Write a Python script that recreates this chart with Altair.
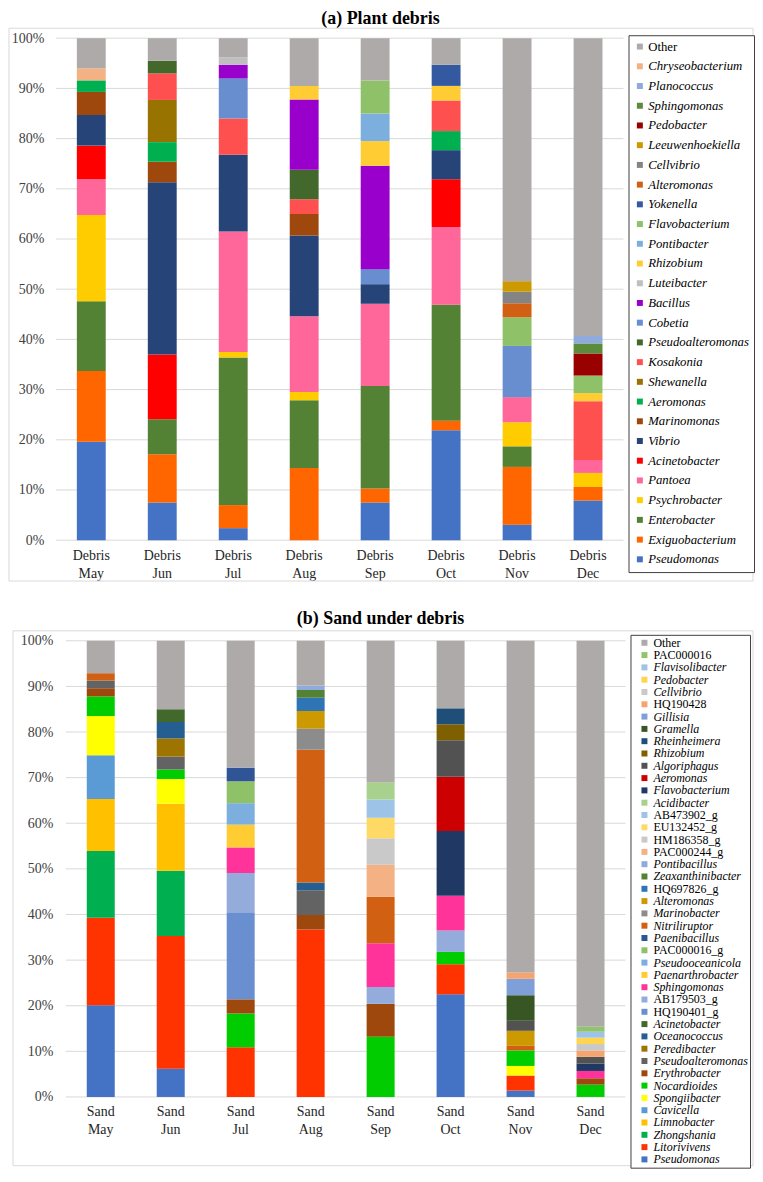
import altair as alt
import pandas as pd

months = ["May", "Jun", "Jul", "Aug", "Sep", "Oct", "Nov", "Dec"]
tick_values = [0.0, 0.1, 0.2, 0.3, 0.4, 0.5, 0.6, 0.7, 0.8, 0.9, 1.0]

# ---------------- (a) Plant debris ----------------
debris_taxa = ["Other", "Chryseobacterium", "Planococcus", "Sphingomonas", "Pedobacter",
               "Leeuwenhoekiella", "Cellvibrio", "Alteromonas", "Yokenella", "Flavobacterium",
               "Pontibacter", "Rhizobium", "Luteibacter", "Bacillus", "Cobetia",
               "Pseudoalteromonas", "Kosakonia", "Shewanella", "Aeromonas", "Marinomonas",
               "Vibrio", "Acinetobacter", "Pantoea", "Psychrobacter", "Enterobacter",
               "Exiguobacterium", "Pseudomonas"]
debris_colors = ["#AEAAAA", "#F4B183", "#8FAADC", "#5B8C3B", "#990000",
                 "#CC9A00", "#848484", "#D26012", "#335AA1", "#8FC168",
                 "#7CAFDD", "#FFCD33", "#BFBFBF", "#9900CC", "#698ED0",
                 "#43682B", "#FF5050", "#997300", "#00B050", "#9E480E",
                 "#264478", "#FF0000", "#FF6699", "#FFCC00", "#548235",
                 "#FF6600", "#4472C4"]

debris_may = {"Pseudomonas": 19.6, "Exiguobacterium": 14.1, "Enterobacter": 13.9, "Psychrobacter": 17.2,
              "Pantoea": 7.1, "Acinetobacter": 6.7, "Vibrio": 6.1, "Marinomonas": 4.6,
              "Aeromonas": 2.3, "Chryseobacterium": 2.4, "Other": 6.0}
debris_jun = {"Pseudomonas": 7.5, "Exiguobacterium": 9.6, "Enterobacter": 7.0, "Acinetobacter": 12.9,
              "Vibrio": 34.3, "Marinomonas": 4.1, "Aeromonas": 3.9, "Shewanella": 8.4,
              "Kosakonia": 5.3, "Pseudoalteromonas": 2.5, "Other": 4.5}
debris_jul = {"Pseudomonas": 2.4, "Exiguobacterium": 4.6, "Enterobacter": 29.4, "Psychrobacter": 1.1,
              "Pantoea": 24.0, "Vibrio": 15.3, "Kosakonia": 7.2, "Cobetia": 8.0,
              "Bacillus": 2.7, "Luteibacter": 1.5, "Other": 3.8}
debris_aug = {"Exiguobacterium": 14.4, "Enterobacter": 13.5, "Psychrobacter": 1.6, "Pantoea": 15.1,
              "Vibrio": 16.1, "Marinomonas": 4.3, "Kosakonia": 2.9, "Pseudoalteromonas": 5.9,
              "Bacillus": 14.0, "Rhizobium": 2.7, "Other": 9.5}
debris_sep = {"Pseudomonas": 7.5, "Exiguobacterium": 2.8, "Enterobacter": 20.4, "Pantoea": 16.4,
              "Vibrio": 3.9, "Cobetia": 3.0, "Bacillus": 20.6, "Rhizobium": 4.9,
              "Pontibacter": 5.5, "Flavobacterium": 6.6, "Other": 8.4}
debris_oct = {"Pseudomonas": 21.9, "Exiguobacterium": 1.9, "Enterobacter": 23.1, "Pantoea": 15.5,
              "Acinetobacter": 9.5, "Vibrio": 5.8, "Aeromonas": 3.8, "Kosakonia": 6.1,
              "Rhizobium": 2.9, "Yokenella": 4.2, "Other": 5.3}
debris_nov = {"Pseudomonas": 3.1, "Exiguobacterium": 11.5, "Enterobacter": 4.1, "Psychrobacter": 4.8,
              "Pantoea": 5.0, "Cobetia": 10.2, "Flavobacterium": 5.7, "Alteromonas": 2.8,
              "Cellvibrio": 2.3, "Leeuwenhoekiella": 2.1, "Other": 48.4}
debris_dec = {"Pseudomonas": 7.9, "Exiguobacterium": 2.7, "Psychrobacter": 2.8, "Pantoea": 2.6,
              "Kosakonia": 11.7, "Rhizobium": 1.6, "Flavobacterium": 3.5, "Pedobacter": 4.4,
              "Sphingomonas": 2.0, "Planococcus": 1.5, "Other": 59.3}
debris_samples = [debris_may, debris_jun, debris_jul, debris_aug,
                  debris_sep, debris_oct, debris_nov, debris_dec]

# ---------------- (b) Sand under debris ----------------
sand_taxa = ["Other", "PAC000016", "Flavisolibacter", "Pedobacter", "Cellvibrio", "HQ190428",
             "Gillisia", "Gramella", "Rheinheimera", "Rhizobium", "Algoriphagus", "Aeromonas",
             "Flavobacterium", "Acidibacter", "AB473902_g", "EU132452_g", "HM186358_g",
             "PAC000244_g", "Pontibacillus", "Zeaxanthinibacter", "HQ697826_g", "Alteromonas",
             "Marinobacter", "Nitriliruptor", "Paenibacillus", "PAC000016_g", "Pseudooceanicola",
             "Paenarthrobacter", "Sphingomonas", "AB179503_g", "HQ190401_g", "Acinetobacter",
             "Oceanococcus", "Peredibacter", "Pseudoalteromonas", "Erythrobacter", "Nocardioides",
             "Spongiibacter", "Cavicella", "Limnobacter", "Zhongshania", "Litorivivens",
             "Pseudomonas"]
sand_colors = ["#AEAAAA", "#92C46D", "#9DC3E6", "#FFD54F", "#C9C9C9", "#F4A470",
               "#7F9FD8", "#375623", "#1F4E79", "#7F6000", "#525252", "#CC0000",
               "#203864", "#A9D18E", "#9DC3E6", "#FFD966", "#C9C9C9",
               "#F4B183", "#8FAADC", "#548235", "#2E75B6", "#CC9A00",
               "#8C8C8C", "#D26012", "#2F5597", "#8FC168", "#7CAFDD",
               "#FFCD33", "#FF3399", "#94ACDC", "#6A8FD0", "#43682B",
               "#255E91", "#9E7400", "#636363", "#9E480E", "#00CC00",
               "#FFFF00", "#5B9BD5", "#FFC000", "#00B050", "#FF3300",
               "#4472C4"]
sand_normal_labels = ["Other", "PAC000016", "HQ190428", "AB473902_g", "EU132452_g", "HM186358_g",
                      "PAC000244_g", "HQ697826_g", "PAC000016_g", "AB179503_g", "HQ190401_g"]

sand_may = {"Pseudomonas": 20.1, "Litorivivens": 19.2, "Zhongshania": 14.6, "Limnobacter": 11.4,
            "Cavicella": 9.6, "Spongiibacter": 8.6, "Nocardioides": 4.3, "Erythrobacter": 1.8,
            "Pseudoalteromonas": 1.7, "Nitriliruptor": 1.6, "Other": 7.1}
sand_jun = {"Pseudomonas": 6.2, "Litorivivens": 29.1, "Zhongshania": 14.3, "Limnobacter": 14.7,
            "Spongiibacter": 5.4, "Nocardioides": 2.1, "Pseudoalteromonas": 2.8, "Peredibacter": 4.0,
            "Oceanococcus": 3.6, "Acinetobacter": 2.8, "Other": 15.0}
sand_jul = {"Litorivivens": 10.9, "Nocardioides": 7.4, "Erythrobacter": 3.1, "HQ190401_g": 19.1,
            "AB179503_g": 8.6, "Sphingomonas": 5.6, "Paenarthrobacter": 5.0, "Pseudooceanicola": 4.7,
            "PAC000016_g": 4.8, "Paenibacillus": 3.0, "Other": 27.8}
sand_aug = {"Litorivivens": 36.7, "Erythrobacter": 3.2, "Pseudoalteromonas": 5.4, "Oceanococcus": 1.7,
            "Nitriliruptor": 29.1, "Marinobacter": 4.6, "Alteromonas": 3.9, "HQ697826_g": 2.9,
            "Zeaxanthinibacter": 1.7, "Pontibacillus": 1.0, "Other": 9.8}
sand_sep = {"Nocardioides": 13.2, "Erythrobacter": 7.2, "AB179503_g": 3.7, "Sphingomonas": 9.6,
            "Nitriliruptor": 10.2, "PAC000244_g": 7.0, "HM186358_g": 5.8, "EU132452_g": 4.5,
            "AB473902_g": 4.0, "Acidibacter": 3.8, "Other": 31.0}
sand_oct = {"Pseudomonas": 22.5, "Litorivivens": 6.6, "Nocardioides": 2.7, "AB179503_g": 4.7,
            "Sphingomonas": 7.6, "Flavobacterium": 14.2, "Aeromonas": 11.9, "Algoriphagus": 8.0,
            "Rhizobium": 3.5, "Rheinheimera": 3.5, "Other": 14.8}
sand_nov = {"Pseudomonas": 1.4, "Litorivivens": 3.3, "Spongiibacter": 2.1, "Nocardioides": 3.4,
            "Nitriliruptor": 1.0, "Alteromonas": 3.3, "Algoriphagus": 2.2, "Gramella": 5.6,
            "Gillisia": 3.6, "HQ190428": 1.4, "Other": 72.7}
sand_dec = {"Nocardioides": 2.7, "Erythrobacter": 1.4, "Sphingomonas": 1.6, "Flavobacterium": 1.6,
            "Algoriphagus": 1.5, "HQ190428": 1.4, "Cellvibrio": 1.4, "Pedobacter": 1.4,
            "Flavisolibacter": 1.3, "PAC000016": 1.1, "Other": 84.6}
sand_samples = [sand_may, sand_jun, sand_jul, sand_aug,
                sand_sep, sand_oct, sand_nov, sand_dec]

SERIF = "Liberation Serif"


def build_df(prefix, samples, taxa):
    stack_order = taxa[::-1]  # bottom of the stack first
    rows = []
    for m, d in zip(months, samples):
        for taxon, v in d.items():
            rows.append({"sample": f"{prefix} {m}", "taxon": taxon, "value": v,
                         "rank": stack_order.index(taxon)})
    return pd.DataFrame(rows)


def panel(prefix, samples, taxa, colors, title, width, height, x_range, pad_inner,
          leg_x, leg_y, leg_font, leg_rowpad, leg_padding, leg_symoff, leg_laboff, italic_expr,
          frame_box, y_label_pad, title_xy):
    df = build_df(prefix, samples, taxa)
    order = [f"{prefix} {m}" for m in months]

    def y_axis():
        return alt.Axis(title=None, format=".0%", values=tick_values, grid=False, domain=False,
                        ticks=False, labelFont=SERIF, labelFontSize=14, labelColor="#404040",
                        labelPadding=y_label_pad)

    grid = alt.Chart(pd.DataFrame({"t": tick_values})).mark_rule(
        color="#D9D9D9", strokeWidth=1
    ).encode(y=alt.Y("t:Q", axis=y_axis(), scale=alt.Scale(domain=[0, 1])),
             x=alt.value(x_range[0]), x2=alt.value(x_range[1]))

    bars = alt.Chart(df).mark_bar().encode(
        x=alt.X("sample:N", sort=order,
                scale=alt.Scale(range=x_range, paddingInner=pad_inner, paddingOuter=pad_inner / 2),
                axis=alt.Axis(title=None, labelExpr="split(datum.label, ' ')", labelAngle=0,
                              labelFont=SERIF, labelFontSize=14, labelColor="#262626",
                              labelLineHeight=18, labelPadding=8, labelBaseline="top",
                              ticks=False, domain=False)),
        y=alt.Y("value:Q", stack="normalize", scale=alt.Scale(domain=[0, 1]), axis=y_axis()),
        color=alt.Color("taxon:N", scale=alt.Scale(domain=taxa, range=colors),
                        legend=alt.Legend(title=None, orient="none", legendX=leg_x, legendY=leg_y,
                                          direction="vertical", symbolType="square", symbolSize=36,
                                          symbolStrokeWidth=0, symbolOffset=leg_symoff,
                                          symbolLimit=100,
                                          labelFont=SERIF, labelFontSize=leg_font,
                                          labelColor="#000000", labelOffset=leg_laboff,
                                          labelLimit=300,
                                          rowPadding=leg_rowpad, padding=leg_padding,
                                          strokeColor="#404040", fillColor="#FFFFFF",
                                          labelFontStyle=alt.ExprRef(italic_expr))),
        order=alt.Order("rank:Q", sort="ascending"),
    )
    x1, x2, y1, y2 = frame_box
    frame = alt.Chart(alt.Data(values=[{}])).mark_rect(
        fillOpacity=0, stroke="#D9D9D9", strokeWidth=1
    ).encode(x=alt.value(x1), x2=alt.value(x2), y=alt.value(y1), y2=alt.value(y2))

    head = alt.Chart(alt.Data(values=[{"label": title}])).mark_text(
        font=SERIF, fontSize=18, fontWeight="bold", color="#000000",
        align="center", baseline="middle"
    ).encode(text="label:N", x=alt.value(title_xy[0]), y=alt.value(title_xy[1]))

    return alt.layer(frame, grid, bars, head).properties(width=width, height=height)


normal_list = ",".join(f"'{s}'" for s in sand_normal_labels)

chart_a = panel("Debris", debris_samples, debris_taxa, debris_colors, "(a) Plant debris",
                570, 504, [0, 570], 0.593,
                leg_x=575, leg_y=-3, leg_font=12.8, leg_rowpad=5.8, leg_padding=5, leg_symoff=0,
                leg_laboff=2,
                italic_expr="datum.label === 'Other' ? 'normal' : 'italic'",
                frame_box=(-47, 700, -10, 545), y_label_pad=12, title_xy=(326, -19))

chart_b = panel("Sand", sand_samples, sand_taxa, sand_colors, "(b) Sand under debris",
                572, 458, [10, 572], 0.60,
                leg_x=577, leg_y=-6, leg_font=12.0, leg_rowpad=0.35, leg_padding=2, leg_symoff=6,
                leg_laboff=3,
                italic_expr=f"indexof([{normal_list}], datum.label) >= 0 ? 'normal' : 'italic'",
                frame_box=(-43, 700, -10, 527), y_label_pad=3, title_xy=(326, -22))

chart = alt.concat(chart_a, chart_b, columns=1, spacing=28, align="none").resolve_scale(
    color="independent"
).properties(padding=0).configure_view(strokeWidth=0)

chart.save("out.html", embed_options={"renderer": "svg", "actions": False})
